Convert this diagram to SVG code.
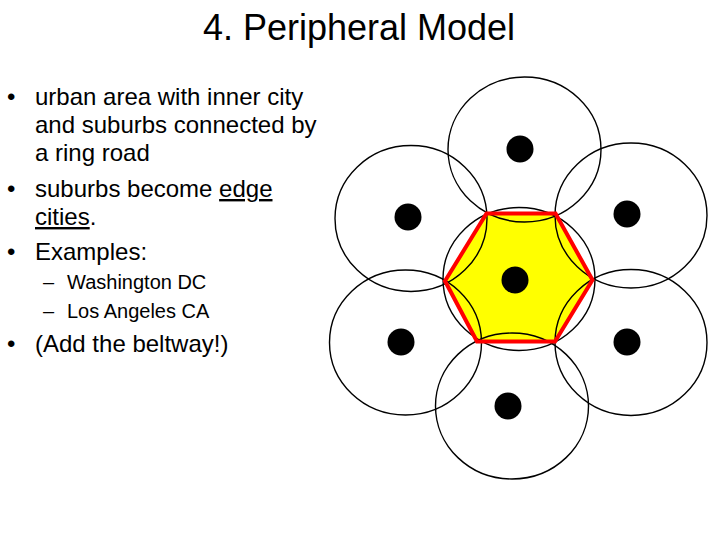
<svg xmlns="http://www.w3.org/2000/svg" width="720" height="540" viewBox="0 0 720 540">
  <style>
    text { font-family: "Liberation Sans", Arial, sans-serif; fill: #000; }
    .title { font-size: 36px; }
    .body { font-size: 24px; }
    .sub { font-size: 20px; }
    .zone { fill: none; stroke: #000; stroke-width: 1.4; }
    .dot { fill: #000; }
    .ring { fill: none; stroke: #ff0000; stroke-width: 4; stroke-linejoin: miter; }
  </style>
  <rect width="720" height="540" fill="#fff"/>

  <text class="title" x="359" y="40" text-anchor="middle">4. Peripheral Model</text>

  <g id="bullets">
    <text class="body" x="7" y="105">•</text>
    <text class="body" x="35" y="105">urban area with inner city</text>
    <text class="body" x="35" y="133">and suburbs connected by</text>
    <text class="body" x="35" y="161">a ring road</text>
    <text class="body" x="7" y="197">•</text>
    <text class="body" x="35" y="197">suburbs become <tspan text-decoration="underline">edge</tspan></text>
    <text class="body" x="35" y="225"><tspan text-decoration="underline">cities</tspan>.</text>
    <text class="body" x="7" y="260">•</text>
    <text class="body" x="35" y="260">Examples:</text>
    <text class="sub" x="43" y="289">–</text>
    <text class="sub" x="67" y="289">Washington DC</text>
    <text class="sub" x="43" y="318">–</text>
    <text class="sub" x="67" y="318">Los Angeles CA</text>
    <text class="body" x="7" y="352">•</text>
    <text class="body" x="35" y="352">(Add the beltway!)</text>
  </g>

  <g id="inner-city-fill">
    <polygon points="486.5,213.5 555.5,213.5 592.5,280 555,341.5 477,341.5 445,281" fill="#ffff00"/>
  </g>

  <g id="suburb-top">
    <ellipse class="zone" cx="524.5" cy="149.5" rx="76.5" ry="72.5"/>
    <circle class="dot" cx="520" cy="149" r="13.5"/>
  </g>
  <g id="suburb-upper-left">
    <ellipse class="zone" cx="411" cy="218.5" rx="76" ry="73"/>
    <circle class="dot" cx="408" cy="217" r="13.5"/>
  </g>
  <g id="suburb-upper-right">
    <ellipse class="zone" cx="631" cy="215.5" rx="76" ry="72.5"/>
    <circle class="dot" cx="627" cy="214" r="13.5"/>
  </g>
  <g id="suburb-lower-left">
    <ellipse class="zone" cx="405.5" cy="342.5" rx="76" ry="72.5"/>
    <circle class="dot" cx="401" cy="342" r="13.5"/>
  </g>
  <g id="suburb-lower-right">
    <ellipse class="zone" cx="631" cy="342.5" rx="76" ry="73"/>
    <circle class="dot" cx="627" cy="342" r="13.5"/>
  </g>
  <g id="suburb-bottom">
    <ellipse class="zone" cx="512" cy="406" rx="76.5" ry="73"/>
    <circle class="dot" cx="508" cy="406" r="13.5"/>
  </g>
  <g id="inner-city">
    <ellipse class="zone" cx="519" cy="279" rx="76" ry="71.5"/>
  </g>

  <g id="connectors">
    <polygon class="ring" points="486.5,213.5 555.5,213.5 592.5,280 555,341.5 477,341.5 445,281"/>
  </g>

  <g id="inner-city-dot">
    <circle class="dot" cx="515" cy="280" r="13.5"/>
  </g>
</svg>
